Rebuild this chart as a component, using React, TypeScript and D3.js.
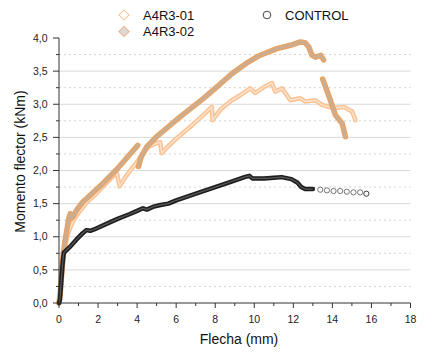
import React from "react";
import * as d3 from "d3";

const xTicks = [0, 2, 4, 6, 8, 10, 12, 14, 16, 18];
const yTicks = [0, 0.5, 1, 1.5, 2, 2.5, 3, 3.5, 4];

const a4r301: [number, number][] = [
  [0, 0], [0.1, 0.25], [0.2, 0.58], [0.3, 0.82], [0.42, 1.0], [0.55, 1.12], [0.7, 1.22], [0.9, 1.32],
  [1.1, 1.4], [1.42, 1.52], [1.8, 1.62], [2.2, 1.74], [2.6, 1.86], [2.96, 1.97], [3.1, 1.76], [3.4, 1.9],
  [3.7, 2.02], [4.0, 2.13], [4.3, 2.27], [4.6, 2.36], [4.9, 2.4], [5.18, 2.43], [5.26, 2.26], [5.6, 2.37],
  [6.2, 2.53], [6.8, 2.68], [7.4, 2.84], [7.83, 2.96], [7.86, 2.76], [8.3, 2.93], [8.8, 3.05], [9.3, 3.14],
  [9.79, 3.24], [10.05, 3.17], [10.5, 3.26], [10.9, 3.32], [11.08, 3.19], [11.42, 3.24], [11.85, 3.06],
  [12.36, 3.09], [12.62, 3.04], [13.13, 3.06], [13.47, 2.99], [14.07, 2.94], [14.58, 2.96], [15.01, 2.89],
  [15.18, 2.76],
];

const a4r302Seg1: [number, number][] = [
  [0, 0], [0.08, 0.2], [0.15, 0.5], [0.22, 0.75], [0.3, 0.92], [0.4, 1.1], [0.5, 1.28], [0.58, 1.35],
  [0.65, 1.28], [0.75, 1.32], [0.9, 1.4], [1.2, 1.52], [1.5, 1.6], [1.9, 1.71], [2.3, 1.82], [2.7, 1.94],
  [3.0, 2.03], [3.5, 2.2], [4.03, 2.38],
];
const a4r302Seg2: [number, number][] = [
  [4.07, 2.06], [4.2, 2.2], [4.5, 2.36], [5.0, 2.51], [5.6, 2.66], [6.2, 2.81], [6.8, 2.95], [7.4, 3.09],
  [8.0, 3.24], [8.5, 3.37], [8.94, 3.48], [9.6, 3.62], [10.3, 3.74], [11.16, 3.84], [11.85, 3.89],
  [12.36, 3.94], [12.6, 3.93], [12.8, 3.86], [12.95, 3.74], [13.13, 3.71], [13.4, 3.74], [13.55, 3.67],
];
const a4r302Seg3: [number, number][] = [
  [13.5, 3.38], [13.9, 3.06], [14.15, 2.84], [14.5, 2.71], [14.67, 2.51],
];

const controlDense: [number, number][] = [
  [0, 0], [0.05, 0.05], [0.12, 0.35], [0.2, 0.65], [0.25, 0.76], [0.32, 0.78], [0.6, 0.86], [0.9, 0.96],
  [1.2, 1.05], [1.4, 1.1], [1.6, 1.09], [1.8, 1.11], [2.4, 1.19], [3.0, 1.27], [3.6, 1.34], [4.0, 1.39],
  [4.3, 1.43], [4.5, 1.41], [4.8, 1.45], [5.2, 1.48], [5.6, 1.5], [6.0, 1.55], [6.6, 1.61], [7.2, 1.67],
  [8.0, 1.75], [8.8, 1.83], [9.5, 1.9], [9.75, 1.92], [9.9, 1.88], [10.5, 1.88], [11.0, 1.89], [11.4, 1.9],
  [11.9, 1.87], [12.2, 1.82], [12.4, 1.75], [12.6, 1.72], [13.0, 1.72],
];
const controlTail: [number, number][] = [
  [13.38, 1.71], [13.72, 1.7], [14.06, 1.69], [14.4, 1.69], [14.74, 1.68], [15.08, 1.67], [15.42, 1.67], [15.74, 1.65],
];

const FONT = "'Liberation Sans', Arial, sans-serif";

export default function App() {
  const x = d3.scaleLinear().domain([0, 18]).range([59, 410.5]);
  const y = d3.scaleLinear().domain([0, 4]).range([303, 38]);
  const line = d3
    .line<[number, number]>()
    .x((d) => x(d[0]))
    .y((d) => y(d[1]))
    .curve(d3.curveLinear);

  const majorY = d3.range(0, 4.001, 0.5);
  const minorY = d3.range(0.25, 4, 0.5);
  const minorX = d3.range(1, 18, 2);

  const diamond = d3.symbol().type(d3.symbolSquare).size(52)();

  return (
    <svg width={444} height={356} style={{ position: "absolute", left: 0, top: 0, background: "#fff" }}>
      {/* grid */}
      {majorY.filter((v) => v > 0 && v < 4).map((v) => (
        <line key={"g" + v} x1={x(0)} x2={x(18)} y1={y(v)} y2={y(v)} stroke="#d9d9d9" strokeWidth={1} />
      ))}
      {minorY.map((v) => (
        <line key={"m" + v} x1={x(0)} x2={x(18)} y1={y(v)} y2={y(v)} stroke="#d4d4d4" strokeWidth={1} strokeDasharray="2,3" />
      ))}

      {/* A4R3-01 */}
      <path d={line(a4r301) || ""} fill="none" stroke="#fac293" strokeWidth={4.5} strokeLinejoin="round" strokeLinecap="round" />
      <path d={line(a4r301) || ""} fill="none" stroke="#fff" strokeOpacity={0.5} strokeWidth={1.6} strokeLinejoin="round" strokeLinecap="round" />

      {/* A4R3-02 */}
      {[a4r302Seg1, a4r302Seg2, a4r302Seg3].map((seg, i) => (
        <g key={"s" + i}>
          <path d={line(seg) || ""} fill="none" stroke="#e8a466" strokeWidth={5.5} strokeLinejoin="round" strokeLinecap="round" />
          <path d={line(seg) || ""} fill="none" stroke="#c9ae95" strokeWidth={2.5} strokeLinejoin="round" strokeLinecap="round" />
        </g>
      ))}

      {/* CONTROL */}
      <path d={line(controlDense) || ""} fill="none" stroke="#1e1e1e" strokeWidth={4.5} strokeLinejoin="round" strokeLinecap="round" />
      <path d={line(controlDense) || ""} fill="none" stroke="#5a5a5a" strokeWidth={1.2} strokeLinejoin="round" />
      {controlTail.map((d, i) => (
        <circle key={"c" + i} cx={x(d[0])} cy={y(d[1])} r={2.6} fill="#fff" stroke={i === controlTail.length - 1 ? "#222" : "#666"} strokeWidth={0.9} />
      ))}

      {/* axes */}
      <line x1={x(0)} x2={x(0)} y1={y(0)} y2={y(4)} stroke="#333" strokeWidth={1} />
      <line x1={x(0)} x2={x(18)} y1={y(0)} y2={y(0)} stroke="#333" strokeWidth={1} />
      {yTicks.map((v) => (
        <g key={"yt" + v}>
          <line x1={x(0) - 6} x2={x(0)} y1={y(v)} y2={y(v)} stroke="#333" />
          <text x={47.5} y={y(v)} dy="0.35em" textAnchor="end" fontFamily={FONT} fontSize={10.5} fill="#222">
            {v.toFixed(1).replace(".", ",")}
          </text>
        </g>
      ))}
      {minorY.map((v) => (
        <line key={"ym" + v} x1={x(0) - 3} x2={x(0)} y1={y(v)} y2={y(v)} stroke="#333" />
      ))}
      {xTicks.map((v) => (
        <g key={"xt" + v}>
          <line x1={x(v)} x2={x(v)} y1={y(0)} y2={y(0) + 5} stroke="#333" />
          <text x={x(v)} y={323} textAnchor="middle" fontFamily={FONT} fontSize={10.5} fill="#222">
            {v}
          </text>
        </g>
      ))}
      {minorX.map((v) => (
        <line key={"xm" + v} x1={x(v)} x2={x(v)} y1={y(0)} y2={y(0) + 3} stroke="#333" />
      ))}

      {/* titles */}
      <text x={239} y={344} textAnchor="middle" fontFamily={FONT} fontSize={14} fill="#111">
        Flecha (mm)
      </text>
      <text transform="translate(24.5,161.5) rotate(-90)" textAnchor="middle" fontFamily={FONT} fontSize={14} fill="#111">
        Momento flector (kNm)
      </text>

      {/* legend */}
      <path d={diamond || ""} transform="translate(124,15) rotate(45)" fill="#fff" stroke="#fac293" strokeWidth={1} />
      <text x={143} y={19.5} fontFamily={FONT} fontSize={13} fill="#111">A4R3-01</text>
      <path d={diamond || ""} transform="translate(124,31.5) rotate(45)" fill="#d9d9d9" stroke="#f4b183" strokeWidth={1} />
      <text x={143} y={36} fontFamily={FONT} fontSize={13} fill="#111">A4R3-02</text>
      <circle cx={267} cy={15} r={3.8} fill="none" stroke="#444" strokeWidth={1} />
      <text x={285} y={19.5} fontFamily={FONT} fontSize={13} fill="#111">CONTROL</text>
    </svg>
  );
}
